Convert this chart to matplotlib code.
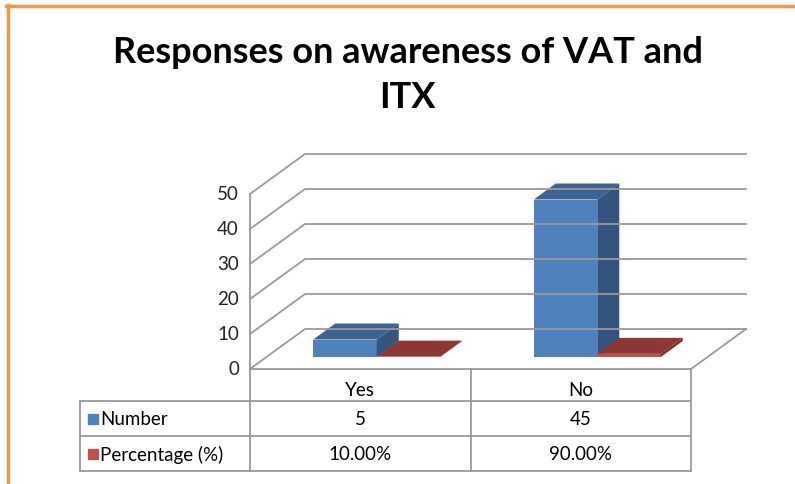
import matplotlib.pyplot as plt
from matplotlib.patches import Polygon
from matplotlib.lines import Line2D

# data
categories = ["Yes", "No"]
number = [5, 45]
percentage = [0.10, 0.90]
series_names = ["Number", "Percentage (%)"]
yticks = [0, 10, 20, 30, 40, 50]

plt.rcParams['font.family'] = ['Lato', 'DejaVu Sans']

fig = plt.figure(figsize=(7.95, 4.85), dpi=100)
ax = fig.add_axes([0, 0, 1, 1])
# 1 category = 220.5 px, 1 value unit = 3.5 px, floor front at px (250, 370)
ax.set_xlim(-250 / 220.5, 545 / 220.5)
ax.set_ylim(-115 / 3.5, 370 / 3.5)
ax.axis("off")

# oblique depth direction (full depth) in data units
kx, ky = 55 / 220.5, 40 / 3.5
def proj(x, y, d):
    return (x + d * kx, y + d * ky)

grid = "#9a9a9a"
ncat = len(categories)
ymax = yticks[-1]
fs = 13.5

# walls and floor
for v in yticks:
    p0, p1, p2 = proj(0, v, 0), proj(0, v, 1), proj(ncat, v, 1)
    ax.plot([p0[0], p1[0], p2[0]], [p0[1], p1[1], p2[1]], color=grid, lw=1.3)
    ax.text(-0.05, v, str(v), ha="right", va="center", fontsize=fs, color="#222222")
f0, f1, f2 = proj(0, 0, 0), proj(ncat, 0, 0), proj(ncat, 0, 1)
ax.plot([f0[0], f1[0], f2[0]], [f0[1], f1[1], f2[1]], color=grid, lw=1.3)
ax.plot([0, 0], [0, ymax], color=grid, lw=1.3)

# 3d bars
colors = [("#4F81BD", "#3C6391", "#33557F"), ("#C0504D", "#8E3835", "#7A2F2D")]
bw = 0.288
d0, d1 = 0.3, 0.7
for i in range(ncat):
    c = i + 0.5
    for s, vals in enumerate([number, percentage]):
        h = vals[i]
        x0, x1 = c - bw + s * bw, c + s * bw
        front, top, side = colors[s]
        ax.add_patch(Polygon([proj(x0, 0, d0), proj(x1, 0, d0), proj(x1, h, d0), proj(x0, h, d0)],
                             closed=True, facecolor=front, edgecolor="none"))
        ax.add_patch(Polygon([proj(x0, h, d0), proj(x1, h, d0), proj(x1, h, d1), proj(x0, h, d1)],
                             closed=True, facecolor=top, edgecolor="none"))
        ax.add_patch(Polygon([proj(x1, 0, d0), proj(x1, 0, d1), proj(x1, h, d1), proj(x1, h, d0)],
                             closed=True, facecolor=side, edgecolor="none"))

# data table below the floor
tcol = "#9a9a9a"
left = -170 / 220.5
rows = [0, -32 / 3.5, -67 / 3.5, -102 / 3.5]
for y in rows[1:]:
    ax.plot([left, ncat], [y, y], color=tcol, lw=1.3)
for x in range(ncat + 1):
    ax.plot([x, x], [rows[0], rows[-1]], color=tcol, lw=1.3)
ax.plot([left, left], [rows[1], rows[-1]], color=tcol, lw=1.3)

for i, cat in enumerate(categories):
    ax.text(i + 0.5, (rows[0] + rows[1]) / 2 - 1.2, cat, ha="center", va="center", fontsize=fs)
    ax.text(i + 0.5, (rows[1] + rows[2]) / 2, str(number[i]), ha="center", va="center", fontsize=fs)
    ax.text(i + 0.5, (rows[2] + rows[3]) / 2, "%.2f%%" % (percentage[i] * 100),
            ha="center", va="center", fontsize=fs)
for s, name in enumerate(series_names):
    ym = (rows[s + 1] + rows[s + 2]) / 2
    ax.plot([left + 0.059], [ym], marker="s", ms=7, color=colors[s][0], ls="none")
    ax.text(left + 0.09, ym, name, ha="left", va="center", fontsize=fs)

# title
fig.text(0.513, 0.845, "Responses on awareness of VAT and\nITX", ha="center", va="center",
         fontsize=26, fontweight="bold", linespacing=1.45)

# orange frame (top and left only)
fig.add_artist(Line2D([6 / 795, 1], [1 - 7 / 485, 1 - 7 / 485], color="#F79646", lw=2.5))
fig.add_artist(Line2D([8 / 795, 8 / 795], [0, 1 - 6 / 485], color="#F79646", lw=2.5))

fig.savefig("out.png", dpi=100, facecolor="white")
